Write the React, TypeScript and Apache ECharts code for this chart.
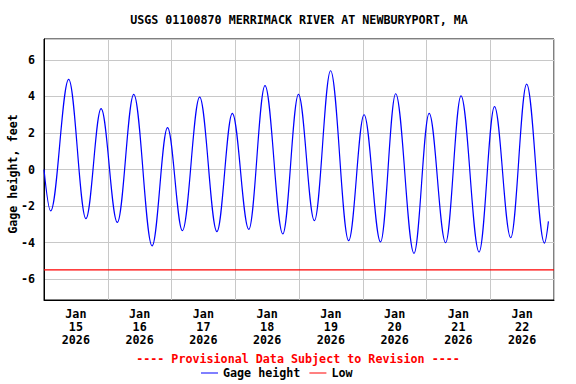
import React, { useEffect, useRef } from 'react';
import * as echarts from 'echarts';

const TITLE = 'USGS 01100870 MERRIMACK RIVER AT NEWBURYPORT, MA';
const Y_NAME = 'Gage height, feet';
const NOTE = '---- Provisional Data Subject to Revision ----';
const MONTH = 'Jan';
const YEAR = '2026';
const DAYS = ['15', '16', '17', '18', '19', '20', '21', '22'];
const SERIES_NAMES = ['Gage height', 'Low'];

// hours since Jan 15 2026 00:00 (readings at highs/lows)
const tideHours = [
  0, 2.5, 9.3, 15.8, 21.5, 27.6, 33.8, 40.7, 46.5,
  52.1, 58.6, 65.1, 70.9, 77.1, 83.2, 89.9, 95.8,
  101.8, 107.9, 114.7, 120.5, 126.7, 132.4, 139.3, 145.0,
  151.2, 157.0, 163.8, 169.6, 175.7, 181.7, 188.4, 189.9,
];
const tideHeights = [
  0.0, -2.27, 4.94, -2.69, 3.33, -2.9, 4.12, -4.19, 2.29,
  -3.35, 3.96, -3.4, 3.08, -3.28, 4.59, -3.53, 4.12,
  -2.8, 5.41, -3.9, 3.0, -3.97, 4.15, -4.59, 3.08,
  -4.01, 4.03, -4.52, 3.44, -3.74, 4.68, -4.03, -2.84,
];
const lowHours = [0, 192];
const lowValues = [-5.5, -5.5];

const FONT = '"DejaVu Sans Mono", "Liberation Mono", monospace';
const FS = 11.7;

export default function App() {
  const ref = useRef<HTMLDivElement>(null);
  useEffect(() => {
    if (!ref.current) return;
    const chart = echarts.init(ref.current, undefined, { renderer: 'svg' });
    const dayCenters = DAYS.map((_, i) => i * 24 + 12);
    chart.setOption({
      animation: false,
      backgroundColor: '#fff',
      grid: {
        left: 44,
        right: 22,
        top: 39,
        bottom: 84,
        show: true,
        borderColor: '#000',
        borderWidth: 1,
        backgroundColor: 'transparent',
      },
      xAxis: {
        type: 'value',
        min: 0,
        max: DAYS.length * 24,
        interval: 24,
        axisLine: { show: true, onZero: false, lineStyle: { color: '#000', width: 1 } },
        axisTick: { show: false },
        splitLine: { show: true, lineStyle: { color: '#c8c8c8', width: 1 } },
        axisLabel: {
          customValues: dayCenters,
          margin: 7,
          color: '#000',
          fontFamily: FONT,
          fontWeight: 'bold',
          fontSize: FS,
          lineHeight: 13,
          formatter: (v: number) => `${MONTH}\n${DAYS[Math.floor(v / 24)]}\n${YEAR}`,
        },
      },
      yAxis: {
        type: 'value',
        min: -7.15,
        max: 7.15,
        splitNumber: 7,
        axisLine: { show: true, onZero: false, lineStyle: { color: '#000', width: 1 } },
        axisTick: { show: false },
        splitLine: { show: true, lineStyle: { color: '#c8c8c8', width: 1 } },
        axisLabel: {
          showMinLabel: false,
          showMaxLabel: false,
          margin: 9,
          color: '#000',
          fontFamily: FONT,
          fontWeight: 'bold',
          fontSize: FS,
          formatter: (v: number) => String(v),
        },
      },
      legend: {
        data: SERIES_NAMES,
        left: 196,
        top: 362,
        icon: 'rect',
        itemWidth: 17,
        itemHeight: 1,
        itemGap: 9,
        textStyle: { color: '#000', fontFamily: FONT, fontWeight: 'bold', fontSize: FS },
      },
      graphic: [
        {
          type: 'text',
          x: 299,
          y: 20,
          style: {
            text: TITLE,
            align: 'center',
            verticalAlign: 'middle',
            fill: '#000',
            font: `bold ${FS}px ${FONT}`,
          },
        },
        {
          type: 'text',
          x: 13,
          y: 174,
          rotation: Math.PI / 2,
          style: {
            text: Y_NAME,
            align: 'center',
            verticalAlign: 'middle',
            fill: '#000',
            font: `bold ${FS}px ${FONT}`,
          },
        },
        {
          type: 'text',
          x: 298,
          y: 359,
          style: {
            text: NOTE,
            align: 'center',
            verticalAlign: 'middle',
            fill: '#ff0000',
            font: `bold ${FS}px ${FONT}`,
          },
        },
      ],
      series: [
        {
          name: SERIES_NAMES[0],
          type: 'line',
          data: tideHours.map((h, i) => [h, tideHeights[i]]),
          showSymbol: false,
          smooth: 0.36,
          smoothMonotone: 'x',
          color: '#0000ff',
          lineStyle: { color: '#0000ff', width: 1.2 },
          z: 3,
        },
        {
          name: SERIES_NAMES[1],
          type: 'line',
          data: lowHours.map((h, i) => [h, lowValues[i]]),
          showSymbol: false,
          color: '#ff0000',
          lineStyle: { color: '#ff0000', width: 1.2 },
          z: 2,
        },
      ],
    });
    return () => chart.dispose();
  }, []);
  return (
    <div
      ref={ref}
      style={{ position: 'fixed', left: 0, top: 0, width: 576, height: 384 }}
    />
  );
}
